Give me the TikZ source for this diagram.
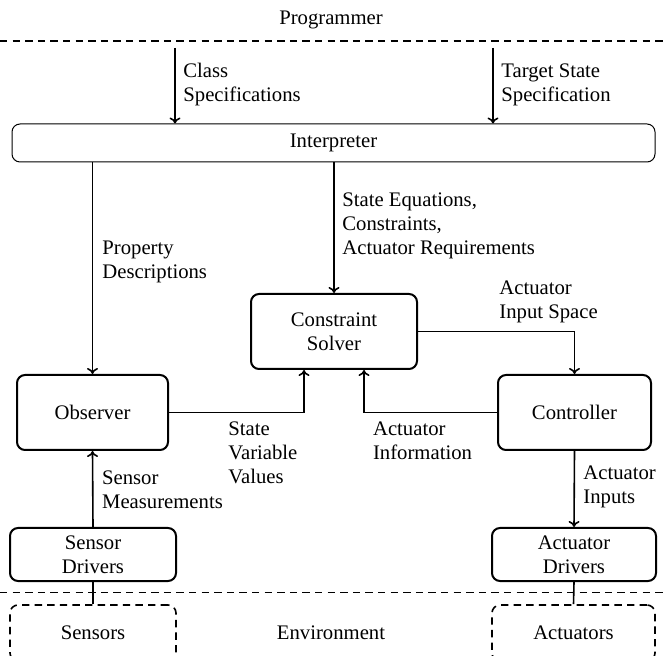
\documentclass[tikz,border=0pt]{standalone}
\usepackage{fontspec}
\setmainfont{Liberation Serif}
\usetikzlibrary{arrows.meta}

\begin{document}
\begin{tikzpicture}[
  x=0.5pt,
  y=-0.5pt,
  every node/.style={font=\fontsize{10.35pt}{11.85pt}\selectfont},
  block/.style={draw, line width=1pt, rounded corners=4pt, align=center, inner sep=0pt},
  world/.style={draw, line width=0.8pt, rounded corners=4pt, dash pattern=on 3.7pt off 2.6pt, inner sep=0pt},
  flow/.style={line width=0.8pt, -{To[length=3pt, width=5.5pt]}},
  link/.style={line width=0.8pt},
  border/.style={line width=0.8pt, dash pattern=on 3.7pt off 2.6pt},
  tag/.style={anchor=west, align=left, inner sep=0pt}
]
  % ---- page frame, same proportions as the reference ----
  \useasboundingbox (0,0) rectangle (663,656);

  % ---- programmer side ----
  \node (prog) at (331,20) {Programmer};
  \coordinate (topl) at (0,41);
  \coordinate (topr) at (663,41);
  \draw[border] (topl) -- (topr);

  \node[block, line width=0.5pt, minimum width=321.5pt, minimum height=19pt]
    (interp) at (333.5,143) {Interpreter};

  \coordinate (classin) at (175,48);
  \coordinate (targetin) at (493,48);
  \draw[flow] (classin) -- (classin |- interp.north);
  \draw[flow] (targetin) -- (targetin |- interp.north);
  \node[tag] (classlbl) at (183,84.7) {Class\\Specifications};
  \node[tag] (targetlbl) at (501,84.7) {Target State\\Specification};

  % ---- middle blocks ----
  \node[block, minimum width=83pt, minimum height=37.5pt]
    (solver) at (334,331.5) {Constraint\\Solver};
  \node[block, minimum width=75.5pt, minimum height=37.5pt]
    (obs) at (92.5,412.5) {Observer};
  \node[block, minimum width=76.5pt, minimum height=37.5pt]
    (ctrl) at (574.5,412.5) {Controller};

  \draw[flow] (obs.north |- interp.south) -- (obs.north);
  \node[tag] (proplbl) at (102,262) {Property\\Descriptions};

  \draw[flow] (solver.north |- interp.south) -- (solver.north);
  \node[tag] (eqlbl) at (342,226) {State Equations,\\Constraints,\\Actuator Requirements};

  \draw[flow] (solver.east) -| (ctrl.north);
  \node[tag] (spacelbl) at (499,301.7) {Actuator\\Input Space};

  \draw[flow] (obs.east) -| ([xshift=-15pt]solver.south);
  \node[tag] (statelbl) at (228,452.7) {State\\Variable\\Values};

  \draw[flow] (ctrl.west) -| ([xshift=15pt]solver.south);
  \node[tag] (infolbl) at (372.7,441) {Actuator\\Information};

  % ---- drivers ----
  \node[block, minimum width=83pt, minimum height=26.5pt]
    (sdrv) at (93,554.5) {Sensor\\Drivers};
  \node[block, minimum width=82pt, minimum height=26.5pt]
    (adrv) at (574,554.5) {Actuator\\Drivers};

  \draw[flow] (sdrv.north) -- (obs.south);
  \node[tag] (measlbl) at (101.7,489.7) {Sensor\\Measurements};

  \draw[flow] (ctrl.south) -- (adrv.north);
  \node[tag] (inplbl) at (583,487) {Actuator\\Inputs};

  % ---- environment side ----
  \coordinate (botl) at (0,592.5);
  \coordinate (botr) at (663,592.5);
  \draw[border] (botl) -- (botr);

  \node[world, minimum width=83pt, minimum height=28pt] (sens) at (93,633) {Sensors};
  \node[world, minimum width=81.5pt, minimum height=28pt] (acts) at (573.5,633) {Actuators};
  \node (env) at (331,633) {Environment};

  \draw[link] (sdrv.south) -- (sens.north);
  \draw[link] (adrv.south) -- (acts.north);
\end{tikzpicture}
\end{document}
